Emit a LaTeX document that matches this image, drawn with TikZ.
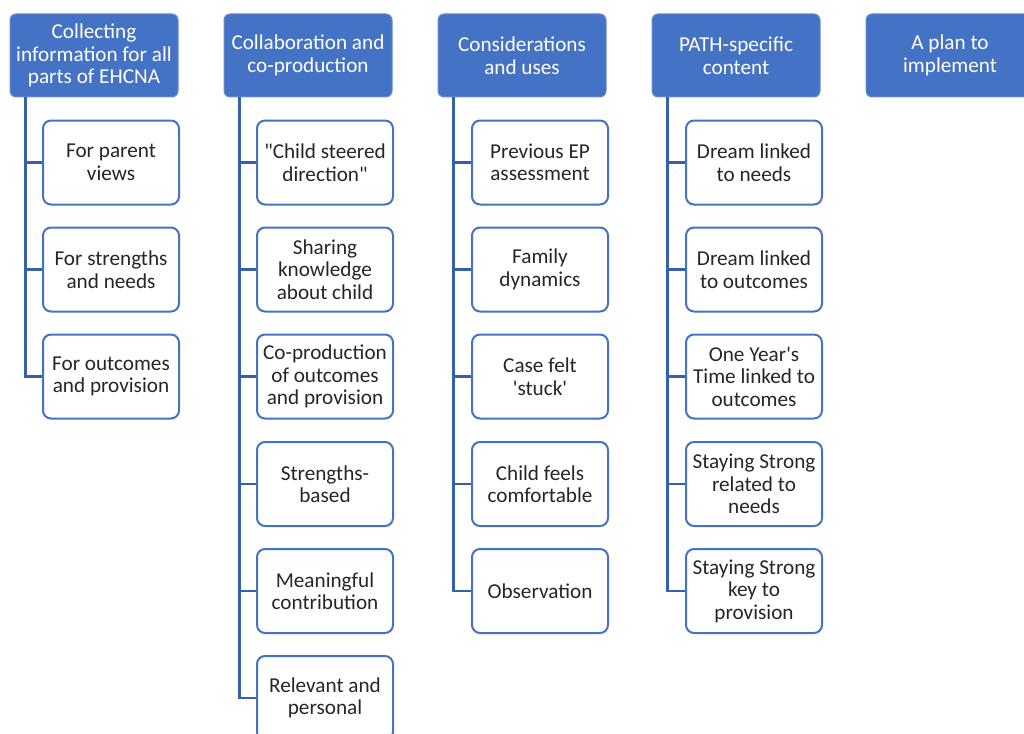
\documentclass[tikz,border=0pt]{standalone}
\usepackage{fontspec}
\setmainfont{Carlito}
\usepackage{textcomp}
\definecolor{smartblue}{HTML}{4472C4}
\definecolor{linkblue}{HTML}{3560AA}

\begin{document}
\begin{tikzpicture}[x=1pt,y=-1pt,
  head/.style={draw=smartblue!80!white, line width=1pt, fill=smartblue, rounded corners=6pt,
    minimum width=168pt, minimum height=83pt, inner sep=0pt, align=center, text=white,
    font=\fontsize{21.2}{22.5}\selectfont},
  item/.style={draw=smartblue, line width=2pt, fill=white, rounded corners=8pt,
    minimum width=136pt, minimum height=84pt, inner sep=0pt, align=center, text=black!85,
    font=\fontsize{21.2}{22.5}\selectfont},
  link/.style={draw=linkblue, line width=2.5pt}]
\useasboundingbox (0,0) rectangle (1024,733);

% headers
\node[head] (h1) at (94,55.5) {Collecting\\information for all\\parts of EHCNA};
\node[head] (h2) at (308,55.5) {Collaboration and\\co-production};
\node[head] (h3) at (522,55.5) {Considerations\\and uses};
\node[head] (h4) at (736,55.5) {PATH-specific\\content};
\node[head] (h5) at (950,55.5) {A plan to\\implement};

% column 1
\node[item] (c1a) at (111,162.5) {For parent\\views};
\node[item] (c1b) at (111,269.5) {For strengths\\and needs};
\node[item] (c1c) at (111,376.5) {For outcomes\\and provision};

% column 2
\node[item] (c2a) at (325,162.5) {\textquotedbl Child steered\\direction\textquotedbl};
\node[item] (c2b) at (325,269.5) {Sharing\\knowledge\\about child};
\node[item] (c2c) at (325,376.5) {Co-production\\of outcomes\\and provision};
\node[item] (c2d) at (325,484) {Strengths-\\based};
\node[item] (c2e) at (325,591) {Meaningful\\contribution};
\node[item] (c2f) at (325,698) {Relevant and\\personal};

% column 3
\node[item] (c3a) at (540,162.5) {Previous EP\\assessment};
\node[item] (c3b) at (540,269.5) {Family\\dynamics};
\node[item] (c3c) at (540,376.5) {Case felt\\\textquotesingle stuck\textquotesingle};
\node[item] (c3d) at (540,484) {Child feels\\comfortable};
\node[item] (c3e) at (540,591) {Observation};

% column 4
\node[item] (c4a) at (754,162.5) {Dream linked\\to needs};
\node[item] (c4b) at (754,269.5) {Dream linked\\to outcomes};
\node[item] (c4c) at (754,376.5) {One Year\textquotesingle s\\Time linked to\\outcomes};
\node[item] (c4d) at (754,484) {Staying Strong\\related to\\needs};
\node[item] (c4e) at (754,591) {Staying Strong\\key to\\provision};

% connectors
\foreach \c in {c1a,c1b,c1c}
  \draw[link] ([xshift=16pt]h1.south west) |- (\c.west);
\foreach \c in {c2a,c2b,c2c,c2d,c2e,c2f}
  \draw[link] ([xshift=16pt]h2.south west) |- (\c.west);
\foreach \c in {c3a,c3b,c3c,c3d,c3e}
  \draw[link] ([xshift=16pt]h3.south west) |- (\c.west);
\foreach \c in {c4a,c4b,c4c,c4d,c4e}
  \draw[link] ([xshift=16pt]h4.south west) |- (\c.west);
\end{tikzpicture}
\end{document}
